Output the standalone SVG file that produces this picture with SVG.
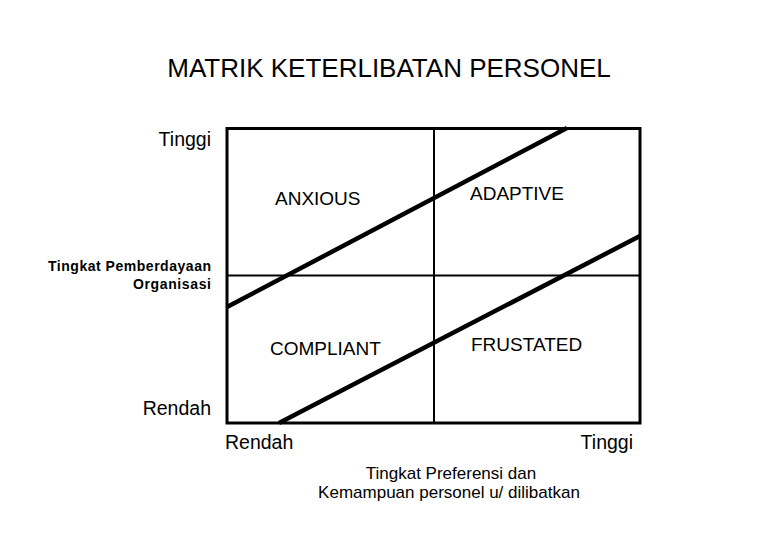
<svg xmlns="http://www.w3.org/2000/svg" width="780" height="540" viewBox="0 0 780 540">
<style>
text{font-family:"Liberation Sans",Arial,sans-serif;fill:#000}
.t{font-size:19.5px}
.q{font-size:19px}
.s{font-size:17px}
.o{font-size:14px;font-weight:bold;text-anchor:end}
.div{stroke:#000;stroke-width:2;fill:none}
.diag{stroke:#000;stroke-width:4.5;fill:none}
</style>
<rect width="780" height="540" fill="#fff"/>
<text x="389" y="77" font-size="26" text-anchor="middle">MATRIK KETERLIBATAN PERSONEL</text>
<g id="frame">
<rect x="227" y="128.5" width="413" height="294.5" fill="none" stroke="#000" stroke-width="3"/>
</g>
<g id="connectors">
<line class="div" x1="434" y1="128" x2="434" y2="423"/>
<line class="div" x1="227" y1="275.5" x2="640" y2="275.5"/>
<line class="diag" x1="227" y1="307" x2="567" y2="128"/>
<line class="diag" x1="279" y1="423" x2="640" y2="236"/>
</g>
<g id="anxious"><text class="q" x="275" y="205">ANXIOUS</text></g>
<g id="adaptive"><text class="q" x="470" y="200">ADAPTIVE</text></g>
<g id="compliant"><text class="q" x="270" y="355">COMPLIANT</text></g>
<g id="frustated"><text class="q" x="471" y="351">FRUSTATED</text></g>
<g id="y-axis">
<text class="t" x="211" y="146" text-anchor="end">Tinggi</text>
<text class="o" x="211" y="271" textLength="163" lengthAdjust="spacing">Tingkat Pemberdayaan</text>
<text class="o" x="211" y="289" textLength="78" lengthAdjust="spacing">Organisasi</text>
<text class="t" x="211" y="415" text-anchor="end">Rendah</text>
</g>
<g id="x-axis">
<text class="t" x="225" y="449">Rendah</text>
<text class="t" x="633" y="449" text-anchor="end">Tinggi</text>
<text class="s" x="451" y="479" text-anchor="middle">Tingkat Preferensi dan</text>
<text class="s" x="449" y="498" text-anchor="middle">Kemampuan personel u/ dilibatkan</text>
</g>
</svg>
